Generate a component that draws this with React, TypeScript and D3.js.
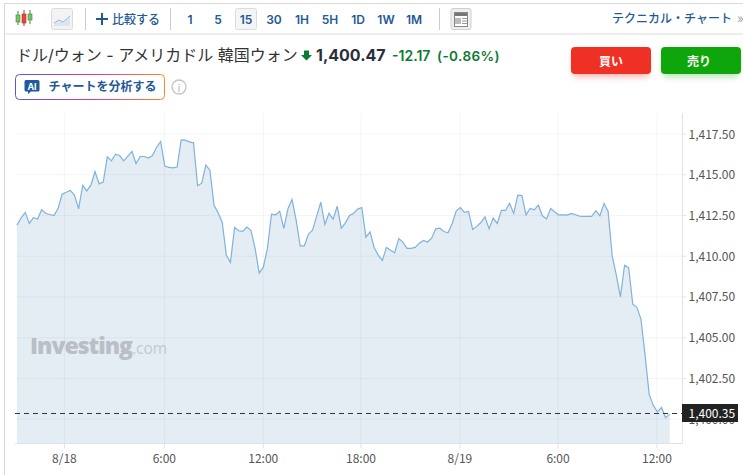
import React from "react";
import * as d3 from "d3";

const prices: number[] = [
  1411.91,1412.36,1412.69,1412.01,1412.36,1412.28,1412.85,1412.64,1412.56,1412.5,
  1412.93,1413.81,1413.93,1414.04,1413.75,1412.91,1414.34,1414.01,1414.36,1415.2,
  1414.44,1414.55,1416.1,1415.85,1416.26,1416.18,1415.85,1416.14,1416.43,1415.69,
  1416.12,1416.12,1416.02,1416.18,1416.69,1417.04,1415.53,1415.45,1415.42,1415.47,
  1417.14,1417.12,1417.02,1416.96,1414.32,1414.48,1415.59,1415.28,1413.13,1412.66,
  1412.07,1410.05,1409.62,1411.77,1411.56,1411.52,1411.79,1411.58,1410.48,1408.96,
  1409.33,1410.48,1412.58,1412.54,1412.75,1411.71,1412.91,1413.48,1412.21,1410.64,
  1410.64,1411.36,1411.6,1412.46,1413.32,1411.95,1412.63,1412.28,1413.07,1411.72,
  1412.05,1412.5,1412.63,1412.89,1412.99,1411.17,1411.5,1410.54,1410.07,1409.74,
  1410.54,1410.37,1410.21,1411.09,1410.87,1410.48,1410.48,1410.54,1410.8,1410.97,
  1410.87,1411.11,1411.68,1411.72,1411.52,1411.44,1411.99,1412.79,1412.99,1412.69,
  1412.75,1411.64,1411.83,1412.07,1412.42,1411.68,1412.34,1412.01,1412.81,1412.81,
  1413.24,1412.63,1413.75,1413.73,1412.54,1412.93,1412.85,1413.13,1412.48,1412.29,
  1412.93,1412.72,1412.54,1412.54,1412.52,1412.63,1412.56,1412.46,1412.44,1412.44,
  1412.44,1412.79,1412.48,1413.24,1412.75,1410.01,1408.84,1407.51,1409.45,1409.29,
  1407.06,1406.86,1406.14,1403.93,1401.52,1400.85,1400.45,1400.72,1400.09,1400.31,
];
const priceTicks = [1400, 1402.5, 1405, 1407.5, 1410, 1412.5, 1415, 1417.5];
const timeLabels = ["8/18", "6:00", "12:00", "18:00", "8/19", "6:00", "12:00"];
const timeIndex = [11.55, 35.9, 60, 83.8, 107.9, 131.8, 155.9];
const currentPrice = 1400.35;
const intervals = ["1", "5", "15", "30", "1H", "5H", "1D", "1W", "1M"];
const intervalX = [190, 218, 246, 274, 302, 330, 358, 386, 414];

const JP = "Inter, 'Noto Sans CJK JP', sans-serif";
const AXF = "'Noto Sans CJK JP', 'Noto Sans', sans-serif";
const BLUE = "#1f5a96";

export default function App() {
  const x = d3.scaleLinear().domain([0, 159]).range([17, 669.7]);
  const y = d3.scaleLinear().domain([1400, 1417.5]).range([419.2, 134]);
  const bottom = 443.5;
  const line = d3.line<number>().x((_, i) => x(i)).y((d) => y(d));
  const area = d3.area<number>().x((_, i) => x(i)).y0(bottom).y1((d) => y(d));
  const fmt = d3.format(",.2f");
  return (
    <svg width={743} height={475} style={{ position: "absolute", left: 0, top: 0, background: "#fff" }}>
      <defs>
        <linearGradient id="ai" x1="0" x2="1" y1="0" y2="0">
          <stop offset="0" stopColor="#5a55e0" />
          <stop offset="0.5" stopColor="#d83a9a" />
          <stop offset="1" stopColor="#f58a1f" />
        </linearGradient>
        <filter id="sh" x="-20%" y="-30%" width="140%" height="180%">
          <feGaussianBlur stdDeviation="3" />
        </filter>
      </defs>
      {/* frame */}
      <line x1={4.5} x2={743} y1={3.5} y2={3.5} stroke="#d8d8d8" />
      <line x1={4.5} x2={743} y1={34} y2={34} stroke="#dcdcdc" />
      <line x1={4.5} x2={4.5} y1={3} y2={475} stroke="#d8d8d8" />

      {/* toolbar */}
      <g>
        <line x1={18} x2={18} y1={11} y2={25} stroke="#3a8a3a" />
        <rect x={16} y={15} width={4} height={7} fill="#7cc06a" stroke="#3a8a3a" strokeWidth={0.6} />
        <line x1={24} x2={24} y1={10} y2={26} stroke="#b03030" />
        <rect x={22} y={14} width={4} height={9} fill="#e8483c" stroke="#b03030" strokeWidth={0.6} />
        <line x1={30} x2={30} y1={10} y2={24} stroke="#3a8a3a" />
        <rect x={28} y={14} width={4} height={6} fill="#7cc06a" stroke="#3a8a3a" strokeWidth={0.6} />
        <rect x={51.5} y={8.5} width={21} height={21} rx={2} fill="#f3f3f3" stroke="#dcdcdc" />
        <path d="M54,23 L59,20 L63,22 L70,16 L70,26 L54,26 Z" fill="#dbe6f0" />
        <path d="M54,23 L59,20 L63,22 L70,16" fill="none" stroke="#9dbbd8" />
        <line x1={85.5} x2={85.5} y1={8} y2={30} stroke="#ccc" />
        <path d="M102,13 V25 M96,19 H108" stroke={BLUE} strokeWidth={2} />
        <text x={112} y={23.5} fontFamily={JP} fontSize={12} fontWeight={500} fill={BLUE}>比較する</text>
        <line x1={170.5} x2={170.5} y1={8} y2={30} stroke="#ccc" />
        <rect x={235.5} y={8.5} width={21} height={21} rx={2} fill="#f5f5f5" stroke="#dcdcdc" />
        {intervals.map((t, i) => (
          <text key={i} x={intervalX[i]} y={23.5} textAnchor="middle" fontFamily={JP} fontSize={12} fontWeight={600} fill={BLUE}>{t}</text>
        ))}
        <line x1={439.5} x2={439.5} y1={8} y2={30} stroke="#ccc" />
        <rect x={451} y={8.5} width={20} height={21} rx={2} fill="#eee" stroke="#d0d0d0" />
        <rect x={454.5} y={12.5} width={13} height={14} fill="#fff" stroke="#888" />
        <rect x={455} y={13} width={12} height={3} fill="#777" />
        <rect x={455} y={18} width={6} height={6} fill="#bbb" />
        <path d="M462,18.5 H467 M462,21 H467 M462,23.5 H467" stroke="#999" />
        <text x={612} y={23} fontFamily={JP} fontSize={12} fontWeight={500} fill={BLUE}>テクニカル・チャート</text>
        <text x={737} y={23} fontFamily={JP} fontSize={12} fill="#9ab">»</text>
      </g>

      {/* header */}
      <text x={16} y={61} fontFamily={JP} fontSize={16} fill="#333">ドル/ウォン - アメリカドル 韓国ウォン</text>
      <path d="M304,50.5 H309 V55 H312 L306.5,60.5 L301,55 H304 Z" fill="#0a7a33" />
      <text x={316} y={61} fontFamily={JP} fontSize={16} fontWeight={700} fill="#2a2e39">1,400.47</text>
      <text x={392} y={61} fontFamily={JP} fontSize={14} fontWeight={600} fill="#0a7a33">-12.17</text>
      <text x={437} y={61} fontFamily={JP} fontSize={13.5} fontWeight={600} letterSpacing={0.4} fill="#0a7a33">(-0.86%)</text>

      <rect x={573} y={52} width={76} height={25} rx={4} fill="#ee3124" opacity={0.35} filter="url(#sh)" />
      <rect x={571} y={47} width={80} height={27} rx={4} fill="#ee3124" />
      <text x={611} y={66} textAnchor="middle" fontFamily={JP} fontSize={12} fontWeight={700} fill="#fff">買い</text>
      <rect x={663} y={52} width={76} height={25} rx={4} fill="#0fa60b" opacity={0.3} filter="url(#sh)" />
      <rect x={661} y={47} width={80} height={27} rx={4} fill="#0fa60b" />
      <text x={699} y={66} textAnchor="middle" fontFamily={JP} fontSize={12} fontWeight={700} fill="#fff">売り</text>

      <rect x={15.5} y={74.5} width={149} height={25} rx={4} fill="#fff" stroke="url(#ai)" />
      <path d="M26,80 H38 a1.5,1.5 0 0 1 1.5,1.5 V90 a1.5,1.5 0 0 1 -1.5,1.5 H31 L28,94 V91.500 H26 a1.500,1.500 0 0 1 -1.500,-1.500 V81.500 a1.500,1.500 0 0 1 1.500,-1.500 Z" fill="#1d5aa0" />
      <text x={32} y={89.5} textAnchor="middle" fontFamily={JP} fontSize={9} fontWeight={700} fill="#fff">AI</text>
      <text x={48.500} y={91} fontFamily={JP} fontSize={12} fontWeight={600} fill={BLUE}>チャートを分析する</text>
      <circle cx={179} cy={87} r={7} fill="none" stroke="#c4c4c4" strokeWidth={1.3} />
      <text x={179} y={91.500} textAnchor="middle" fontFamily={JP} fontSize={10} fill="#b0b0b0">i</text>

      {/* area */}
      <path d={area(prices) ?? ""} fill="#e4ecf4" />

      {/* grid */}
      {priceTicks.map((p) => (
        <line key={p} x1={15} x2={682} y1={y(p)} y2={y(p)} stroke="#6d7f92" strokeOpacity={0.08} />
      ))}
      {timeIndex.map((t) => (
        <line key={t} x1={x(t)} x2={x(t)} y1={113} y2={bottom} stroke="#6d7f92" strokeOpacity={0.08} />
      ))}
      <path d={line(prices) ?? ""} fill="none" stroke="#7fb3dc" strokeWidth={1.2} />

      {/* watermark */}
      <text x={30} y={354} fontFamily="'Open Sans', sans-serif" fontSize={23} fontWeight={800} letterSpacing={-1} fill="#b9bfc5">Investing<tspan fontSize={15.5} fontWeight={400} letterSpacing={0} fill="#c3c9cf">.com</tspan></text>

      {/* axes */}
      <line x1={15} x2={682.5} y1={bottom} y2={bottom} stroke="#dfe3e8" />
      <line x1={682.5} x2={682.5} y1={113} y2={bottom} stroke="#dfe3e8" />
      {timeIndex.map((t, i) => (
        <g key={i}>
          <line x1={x(t)} x2={x(t)} y1={bottom} y2={bottom + 5} stroke="#dfe3e8" />
          <text x={x(t)} y={463} textAnchor="middle" fontFamily={AXF} fontSize={12} fill="#555">{timeLabels[i]}</text>
        </g>
      ))}
      {priceTicks.map((p) => (
        <g key={p}>
          <line x1={682.5} x2={686} y1={y(p)} y2={y(p)} stroke="#dfe3e8" />
          <text x={688.5} y={y(p) + 4.5} fontFamily={AXF} fontSize={12} fill="#555">{fmt(p)}</text>
        </g>
      ))}
      <line x1={15} x2={682} y1={y(currentPrice)} y2={y(currentPrice)} stroke="#333" strokeDasharray="5 4" />
      <rect x={682} y={404} width={56} height={18} fill="#222" />
      <text x={688.5} y={y(currentPrice) + 4.5} fontFamily={AXF} fontSize={12} fill="#fff">{fmt(currentPrice)}</text>
    </svg>
  );
}
